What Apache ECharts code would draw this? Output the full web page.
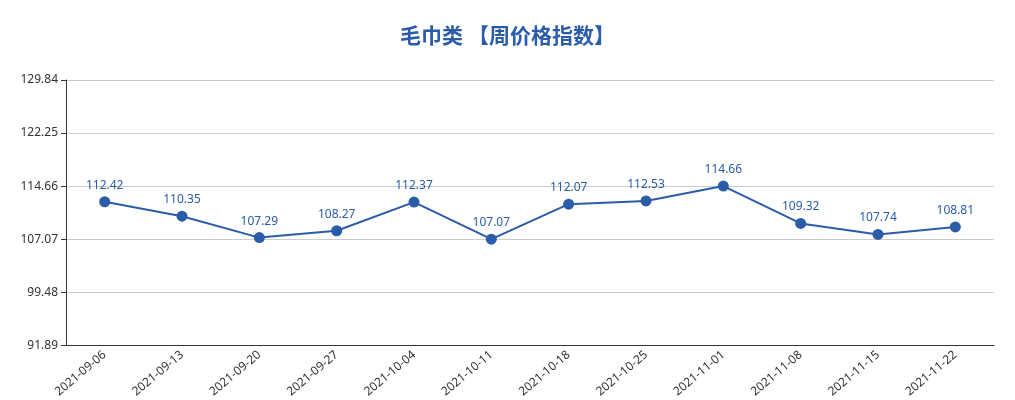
<!DOCTYPE html>
<html>
<head>
<meta charset="utf-8">
<script src="https://cdn.jsdelivr.net/npm/echarts@6/dist/echarts.min.js"></script>
<style>
html,body{margin:0;padding:0;background:#fff;}
#main{width:1015px;height:400px;}
</style>
</head>
<body>
<div id="main"></div>
<script>
var titleText = '毛巾类 【周价格指数】';
var dates = ['2021-09-06','2021-09-13','2021-09-20','2021-09-27','2021-10-04','2021-10-11',
    '2021-10-18','2021-10-25','2021-11-01','2021-11-08','2021-11-15','2021-11-22'];
var values = [112.42,110.35,107.29,108.27,112.37,107.07,112.07,112.53,114.66,109.32,107.74,108.81];
var yMin = 91.89;
var yMax = 129.84;
var yStep = 7.59;

var myChart = echarts.init(document.getElementById('main'));
var option = {
    title: {
        text: titleText,
        left: 'center',
        top: 20,
        textStyle: {
            color: '#2a5caa',
            fontSize: 21,
            fontWeight: 'bold',
            fontFamily: 'Noto Sans CJK SC'
        }
    },
    grid: {
        left: 66,
        right: 21,
        top: 80,
        bottom: 52
    },
    xAxis: {
        type: 'category',
        data: dates,
        axisLine: { lineStyle: { color: '#333' } },
        axisTick: { lineStyle: { color: '#333' } },
        axisLabel: {
            color: '#333',
            fontSize: 12,
            rotate: 40,
            interval: 0,
            fontFamily: 'Noto Sans'
        }
    },
    yAxis: {
        type: 'value',
        min: yMin,
        max: yMax,
        interval: yStep,
        axisLine: { show: true, lineStyle: { color: '#333' } },
        axisTick: { show: true, lineStyle: { color: '#333' } },
        splitLine: { lineStyle: { color: '#ccc' } },
        axisLabel: {
            color: '#333',
            fontSize: 12,
            fontFamily: 'Noto Sans',
            formatter: function (v) { return v.toFixed(2); }
        }
    },
    series: [{
        type: 'line',
        data: values,
        symbol: 'circle',
        symbolSize: 11,
        itemStyle: { color: '#2a5caa' },
        lineStyle: { color: '#2a5caa', width: 2 },
        label: {
            show: true,
            position: 'top',
            color: '#2a5caa',
            fontSize: 12,
            fontFamily: 'Noto Sans'
        }
    }]
};
myChart.setOption(option);
</script>
</body>
</html>
